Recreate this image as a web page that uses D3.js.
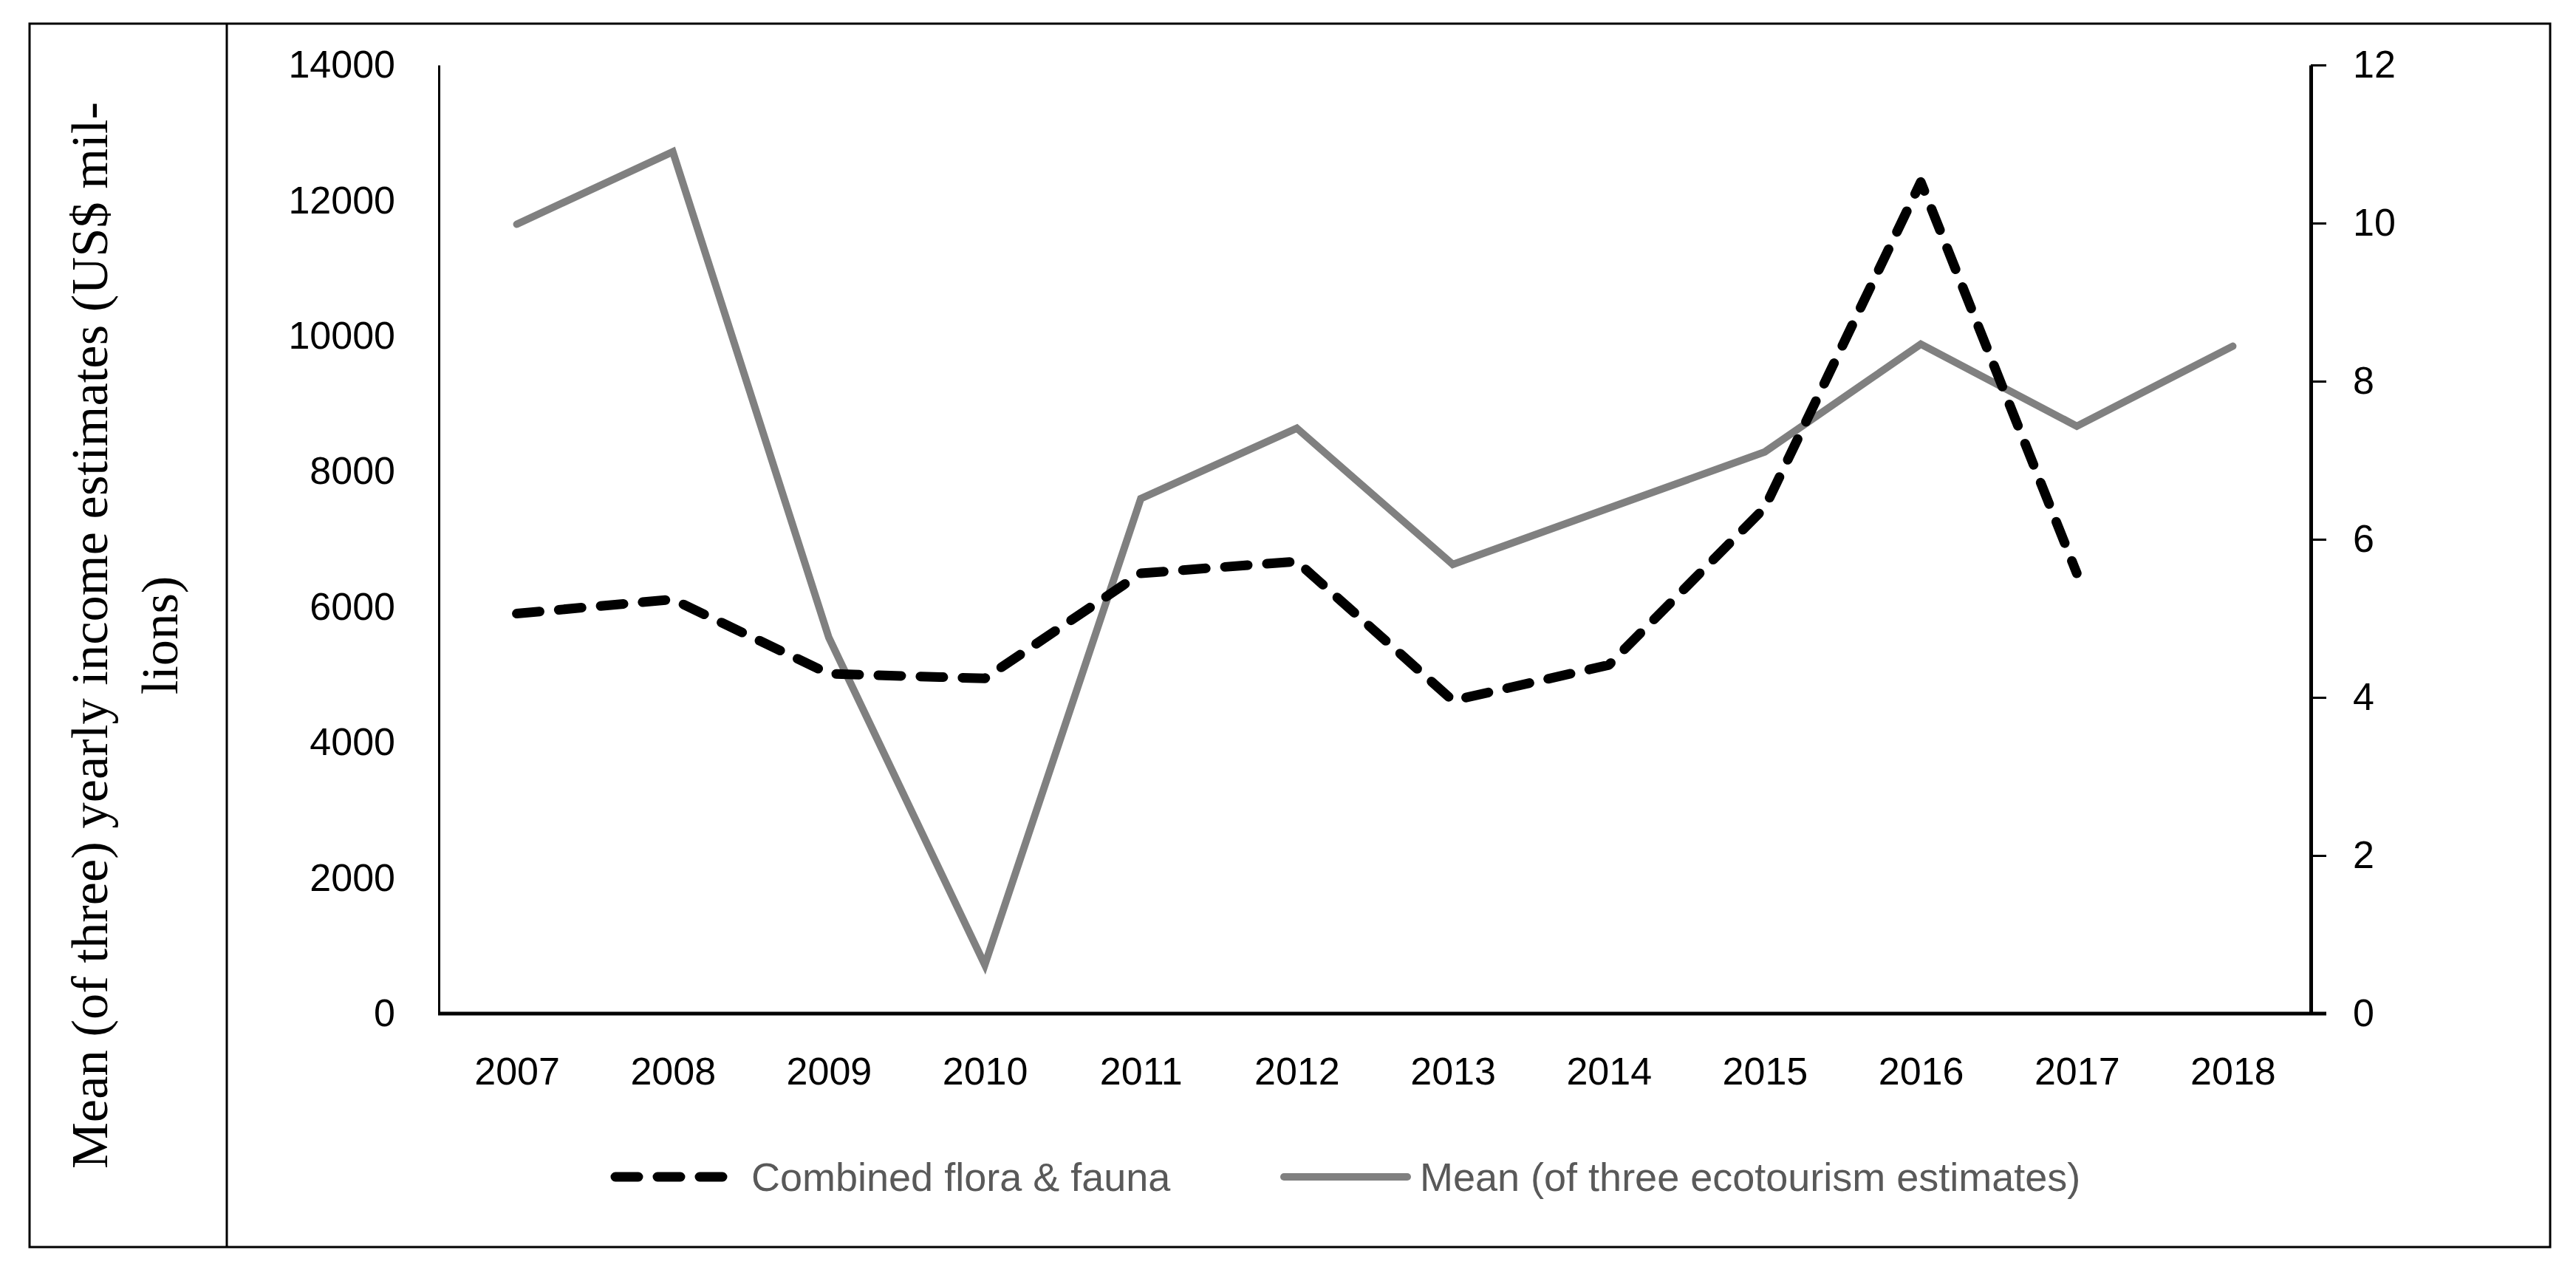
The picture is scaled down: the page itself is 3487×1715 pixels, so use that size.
<!DOCTYPE html>
<html>
<head>
<meta charset="utf-8">
<script src="https://cdn.jsdelivr.net/npm/d3@7"></script>
<style>
  html, body { margin: 0; padding: 0; background: #fff; }
  svg { display: block; }
</style>
</head>
<body>
<svg id="chart" width="3487" height="1715"></svg>
<script>
// ---- data ----
const years = ["2007","2008","2009","2010","2011","2012","2013","2014","2015","2016","2017","2018"];
// Mean (of three ecotourism estimates), left axis (US$ millions)
const meanEco = [11650, 12720, 5550, 720, 7600, 8640, 6630, 7460, 8290, 9880, 8670, 9850];
// Combined flora & fauna, right axis
const floraFauna = [5.06, 5.24, 4.30, 4.24, 5.57, 5.72, 3.96, 4.41, 6.40, 10.52, 5.57];
const leftTicks = [0, 2000, 4000, 6000, 8000, 10000, 12000, 14000];
const rightTicks = [0, 2, 4, 6, 8, 10, 12];
const seriesNames = ["Combined flora & fauna", "Mean (of three ecotourism estimates)"];
const titleLines = ["Mean (of three) yearly income estimates (US$ mil-", "lions)"];

// ---- layout ----
const svg = d3.select("#chart");
const plot = { left: 594, right: 3128, top: 88, bottom: 1372 };
const tickFont = "'Liberation Sans', Arial, sans-serif";

const x = d3.scalePoint().domain(years).range([plot.left, plot.right]).padding(0.5);
const yL = d3.scaleLinear().domain([0, 14000]).range([plot.bottom, plot.top]);
const yR = d3.scaleLinear().domain([0, 12]).range([plot.bottom, plot.top]);

// frame
svg.append("rect").attr("x", 40).attr("y", 32).attr("width", 3412).attr("height", 1656)
  .attr("fill", "none").attr("stroke", "#000").attr("stroke-width", 3);
svg.append("line").attr("x1", 307).attr("x2", 307).attr("y1", 32).attr("y2", 1688)
  .attr("stroke", "#000").attr("stroke-width", 3);

// title (rotated, two lines)
const titleG = svg.append("g").attr("font-family", "'Liberation Serif', 'Times New Roman', serif").attr("fill", "#000");
const t1 = titleG.append("text").attr("transform", "translate(145,860) rotate(-90)")
  .attr("text-anchor", "middle").attr("font-size", 100).text(titleLines[0]);
const len = t1.node().getComputedTextLength();
const fs = 100 * 1444 / len;
t1.attr("font-size", fs);
titleG.append("text").attr("transform", "translate(240,860) rotate(-90)")
  .attr("text-anchor", "middle").attr("font-size", fs).text(titleLines[1]);

// left axis
const gL = svg.append("g").attr("transform", `translate(${plot.left},0)`)
  .call(d3.axisLeft(yL).tickValues(leftTicks).tickSize(0).tickSizeOuter(0).tickPadding(59).tickFormat(d3.format("d")));
gL.select(".domain").attr("stroke", "#000").attr("stroke-width", 3);
gL.selectAll("text").attr("font-size", 52).attr("font-family", tickFont).attr("fill", "#000");

// right axis
const gR = svg.append("g").attr("transform", `translate(${plot.right},0)`)
  .call(d3.axisRight(yR).tickValues(rightTicks).tickSize(21).tickSizeOuter(0).tickPadding(36));
gR.select(".domain").attr("stroke", "#000").attr("stroke-width", 5);
gR.selectAll(".tick line").attr("stroke", "#000").attr("stroke-width", 3);
gR.selectAll("text").attr("font-size", 52).attr("font-family", tickFont).attr("fill", "#000");

// bottom axis
const gB = svg.append("g").attr("transform", `translate(0,${plot.bottom})`)
  .call(d3.axisBottom(x).tickSize(0).tickPadding(59));
gB.select(".domain").remove();
gB.selectAll("text").attr("font-size", 52).attr("font-family", tickFont).attr("fill", "#000");
svg.append("line").attr("x1", plot.left - 1).attr("x2", plot.right + 21)
  .attr("y1", plot.bottom).attr("y2", plot.bottom)
  .attr("stroke", "#000").attr("stroke-width", 5);

// series lines
const grayLine = d3.line().x((d, i) => x(years[i])).y(d => yL(d));
svg.append("path").datum(meanEco).attr("d", grayLine)
  .attr("fill", "none").attr("stroke", "#808080").attr("stroke-width", 10)
  .attr("stroke-linecap", "round").attr("stroke-linejoin", "miter");

const dashLine = d3.line().x((d, i) => x(years[i])).y(d => yR(d));
svg.append("path").datum(floraFauna).attr("d", dashLine)
  .attr("fill", "none").attr("stroke", "#000").attr("stroke-width", 13)
  .attr("stroke-dasharray", "31,26").attr("stroke-linecap", "round").attr("stroke-linejoin", "round");

// legend
const legY = 1593;
const leg = svg.append("g").attr("font-family", tickFont).attr("font-size", 54).attr("fill", "#595959");
leg.append("line").attr("x1", 833).attr("x2", 981).attr("y1", legY).attr("y2", legY)
  .attr("stroke", "#000").attr("stroke-width", 13).attr("stroke-dasharray", "31,26").attr("stroke-linecap", "round");
leg.append("text").attr("x", 1017).attr("y", legY).attr("dy", "0.35em").text(seriesNames[0]);
leg.append("line").attr("x1", 1738).attr("x2", 1905).attr("y1", legY).attr("y2", legY)
  .attr("stroke", "#808080").attr("stroke-width", 10).attr("stroke-linecap", "round");
leg.append("text").attr("x", 1922).attr("y", legY).attr("dy", "0.35em").text(seriesNames[1]);
</script>
</body>
</html>
